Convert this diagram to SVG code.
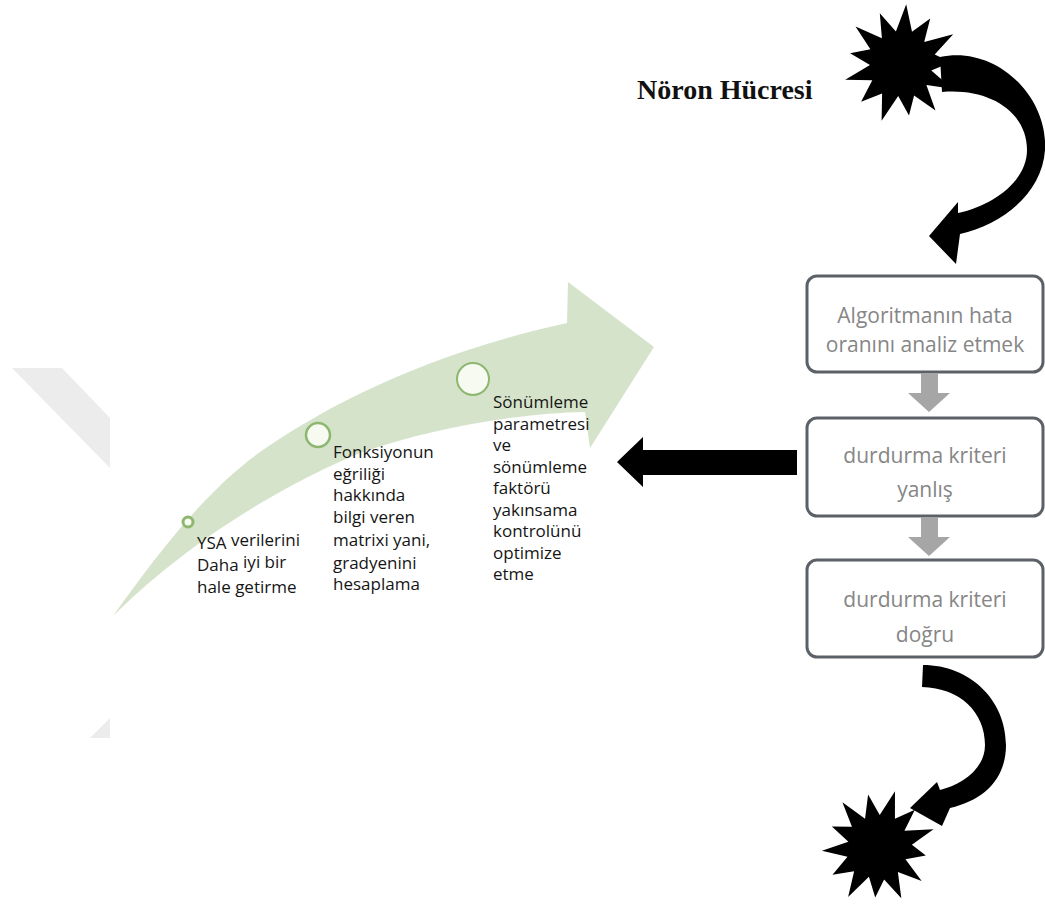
<svg xmlns="http://www.w3.org/2000/svg" width="1045" height="908" viewBox="0 0 1045 908">
<style>
.box{fill:#ffffff;stroke:#5c6168;stroke-width:3}
.bt{font-family:"Open Sans","Noto Sans",sans-serif;font-size:21px;fill:#868686;text-anchor:middle}
.ct{font-family:"Open Sans","Noto Sans",sans-serif;font-size:17px;fill:#151515}
.dot{fill:#f6faf1;stroke:#8db66f}
.blk{fill:#000000}
.gar{fill:#a6a6a6}
</style>
<defs>
<path id="star" d="M5.2,-59.8 L11,-32.2 L29.2,-45.4 L23.2,-22 L52.2,-29.7 L33.7,-9.5 L50,-1.7 L30.3,6.4 L51.3,24.8 L25.4,21 L34.5,46.6 L13.1,31.4 L8,51.4 L-2.8,31.9 L-19.4,56.8 L-18.9,29.5 L-39.9,37.8 L-28.7,16.3 L-55.8,15.8 L-31,1 L-50.9,-10.7 L-30.6,-14.8 L-45.5,-37.6 L-19.1,-25.7 L-21.2,-50.7 L-5.1,-32.6 Z"/>
</defs>
<rect width="1045" height="908" fill="#ffffff"/>
<g id="watermark" fill="#ececec">
<polygon points="12,368 62,368 110,418 110,468"/>
<polygon points="90,738 110,718 110,738"/>
</g>
<g id="process-arrow">
<path d="M113,616 C150,565 200,495 260,452 C320,410 420,355 567,323 L568,282 L654,347 L590,448 L585,412 C520,413 430,428 360,453 C300,478 200,530 113,616 Z" fill="#d5e3cb"/>
</g>
<g id="step1">
<circle class="dot" cx="188" cy="522" r="5" stroke-width="3"/>
<text class="ct" x="197" y="549">YSA <tspan dy="-3">verilerini</tspan></text>
<text class="ct" x="197" y="571">Daha <tspan dy="-3">iyi bir</tspan></text>
<text class="ct" x="197" y="593">hale getirme</text>
</g>
<g id="step2">
<circle class="dot" cx="318" cy="435" r="12" stroke-width="2.5"/>
<text class="ct"><tspan x="333" y="458">Fonksiyonun</tspan><tspan x="333" y="480">eğriliği</tspan><tspan x="333" y="501">hakkında</tspan><tspan x="333" y="523">bilgi veren</tspan><tspan x="333" y="546">matrixi yani,</tspan><tspan x="333" y="569">gradyenini</tspan><tspan x="333" y="590">hesaplama</tspan></text>
</g>
<g id="step3">
<circle class="dot" cx="473" cy="379" r="16" stroke-width="2"/>
<text class="ct"><tspan x="493" y="408">Sönümleme</tspan><tspan x="493" y="429.5">parametresi</tspan><tspan x="493" y="451">ve</tspan><tspan x="493" y="472.5">sönümleme</tspan><tspan x="493" y="494">faktörü</tspan><tspan x="493" y="515.5">yakınsama</tspan><tspan x="493" y="537">kontrolünü</tspan><tspan x="493" y="558.5">optimize</tspan><tspan x="493" y="580">etme</tspan></text>
</g>
<g id="neuron-label">
<text x="637" y="99" font-family="'Liberation Serif','Times New Roman',serif" font-weight="bold" font-size="28" fill="#111111">Nöron Hücresi</text>
</g>
<g id="star-top">
<use href="#star" class="blk" transform="translate(901,64)"/>
</g>
<g id="box1">
<rect class="box" x="807" y="276" width="236" height="96" rx="10"/>
<text class="bt"><tspan x="925" y="323">Algoritmanın hata</tspan><tspan x="925" y="352">oranını analiz etmek</tspan></text>
</g>
<g id="box2">
<rect class="box" x="807" y="418" width="236" height="98" rx="10"/>
<text class="bt"><tspan x="925" y="463">durdurma kriteri</tspan><tspan x="925" y="497">yanlış</tspan></text>
</g>
<g id="box3">
<rect class="box" x="807" y="560" width="236" height="97" rx="10"/>
<text class="bt"><tspan x="925" y="607">durdurma kriteri</tspan><tspan x="925" y="642">doğru</tspan></text>
</g>
<g id="star-bottom">
<use href="#star" class="blk" transform="translate(878,847) rotate(12) scale(0.97)"/>
</g>
<g id="connectors">
<path class="blk" d="M940,57 C995,45 1048,95 1045,150 C1042,195 1000,225 960,234 L956,264 L929,236 L958,202 L958,213 C995,205 1027,180 1027,150 C1027,112 990,88 942,92 Z"/>
<polygon class="gar" points="921,373 938,373 938,393 950,393 929,412 908,393 921,393"/>
<polygon class="gar" points="921,517 938,517 938,537 950,537 929,556 908,537 921,537"/>
<polygon class="blk" points="617,462 643,437 643,450 797,450 797,475 643,475 643,487"/>
<path class="blk" d="M923,665 C970,665 1006,700 1006,745 C1006,778 985,800 950,808 L942,826 L910,808 L937,782 L940,790 C960,785 985,770 985,745 C985,712 960,688 922,687 Z"/>
</g>
</svg>
